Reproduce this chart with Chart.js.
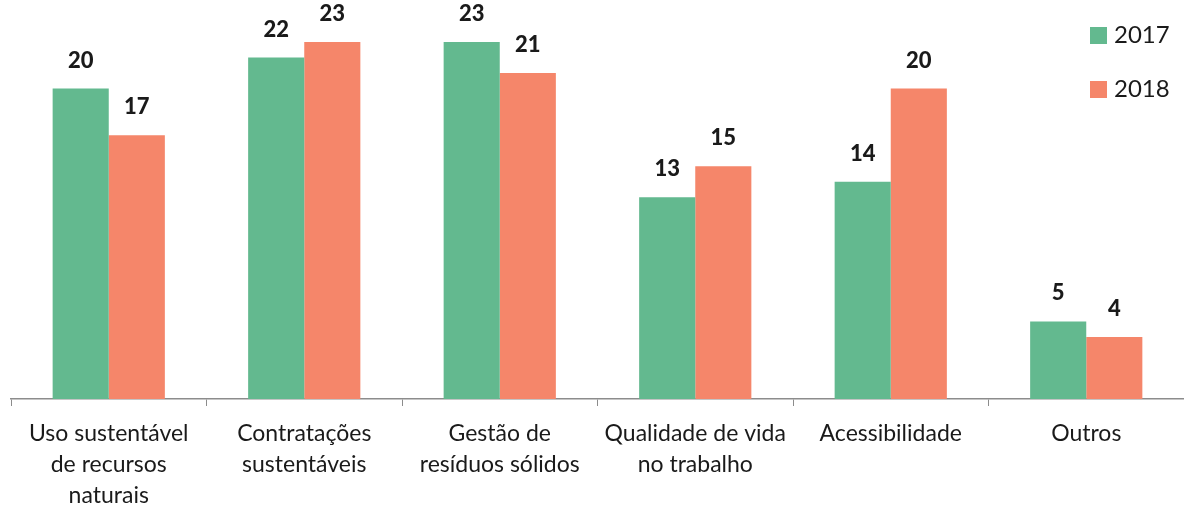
<!DOCTYPE html>
<html>
<head>
<meta charset="utf-8">
<script src="https://cdn.jsdelivr.net/npm/chart.js@4/dist/chart.umd.min.js"></script>
<style>
  html, body { margin: 0; padding: 0; background: #fff; }
  #wrap { width: 1184px; height: 508px; }
</style>
</head>
<body>
<div id="wrap"><canvas id="themeChart" width="1184" height="508"></canvas></div>
<script>
const categories = [
  ["Uso sustentável", "de recursos", "naturais"],
  ["Contratações", "sustentáveis"],
  ["Gestão de", "resíduos sólidos"],
  ["Qualidade de vida", "no trabalho"],
  ["Acessibilidade"],
  ["Outros"]
];
const values2017 = [20, 22, 23, 13, 14, 5];
const values2018 = [17, 23, 21, 15, 20, 4];
const seriesLabels = ["2017", "2018"];

const FONT = "Lato, 'Liberation Sans', sans-serif";

// value labels above each bar
const barValues = {
  id: "barValues",
  afterDatasetsDraw(chart) {
    const ctx = chart.ctx;
    ctx.save();
    ctx.font = "900 22px " + FONT;
    ctx.fillStyle = "#1a1a1a";
    ctx.textAlign = "center";
    ctx.textBaseline = "middle";
    chart.data.datasets.forEach((ds, i) => {
      const meta = chart.getDatasetMeta(i);
      meta.data.forEach((bar, j) => {
        ctx.fillText(ds.data[j], bar.x, bar.y - 28);
      });
    });
    ctx.restore();
  }
};

// legend in the top right corner, like the original
const cornerLegend = {
  id: "cornerLegend",
  afterDraw(chart) {
    const ctx = chart.ctx;
    ctx.save();
    ctx.font = "24px " + FONT;
    ctx.textBaseline = "middle";
    ctx.textAlign = "left";
    const rows = [35, 89];
    chart.data.datasets.forEach((ds, i) => {
      ctx.fillStyle = ds.backgroundColor;
      ctx.fillRect(1090, rows[i] - 8, 17, 17);
      ctx.fillStyle = "#1a1a1a";
      ctx.fillText(ds.label, 1114, rows[i]);
    });
    ctx.restore();
  }
};

function renderChart() {
  const ctx = document.getElementById("themeChart").getContext("2d");
  new Chart(ctx, {
    type: "bar",
    data: {
      labels: categories,
      datasets: [
        {
          label: seriesLabels[0],
          data: values2017,
          backgroundColor: "#63b98f",
          categoryPercentage: 0.574,
          barPercentage: 1
        },
        {
          label: seriesLabels[1],
          data: values2018,
          backgroundColor: "#f5866a",
          categoryPercentage: 0.574,
          barPercentage: 1
        }
      ]
    },
    options: {
      responsive: false,
      animation: false,
      layout: { padding: { left: 11, right: 0, top: 11, bottom: 0 } },
      plugins: {
        legend: { display: false },
        tooltip: { enabled: false }
      },
      scales: {
        x: {
          grid: {
            offset: true,
            drawOnChartArea: false,
            color: "#8c8c8c",
            tickLength: 7
          },
          border: { color: "#8c8c8c", width: 1.5 },
          ticks: {
            color: "#1a1a1a",
            padding: 12,
            maxRotation: 0,
            autoSkip: false,
            font: { family: FONT, size: 23, lineHeight: 1.35 }
          },
          afterFit: (scale) => { scale.height = 109; }
        },
        y: {
          display: false,
          beginAtZero: true,
          min: 0,
          max: 25
        }
      }
    },
    plugins: [barValues, cornerLegend]
  });
}

document.addEventListener("DOMContentLoaded", renderChart);
</script>
</body>
</html>
